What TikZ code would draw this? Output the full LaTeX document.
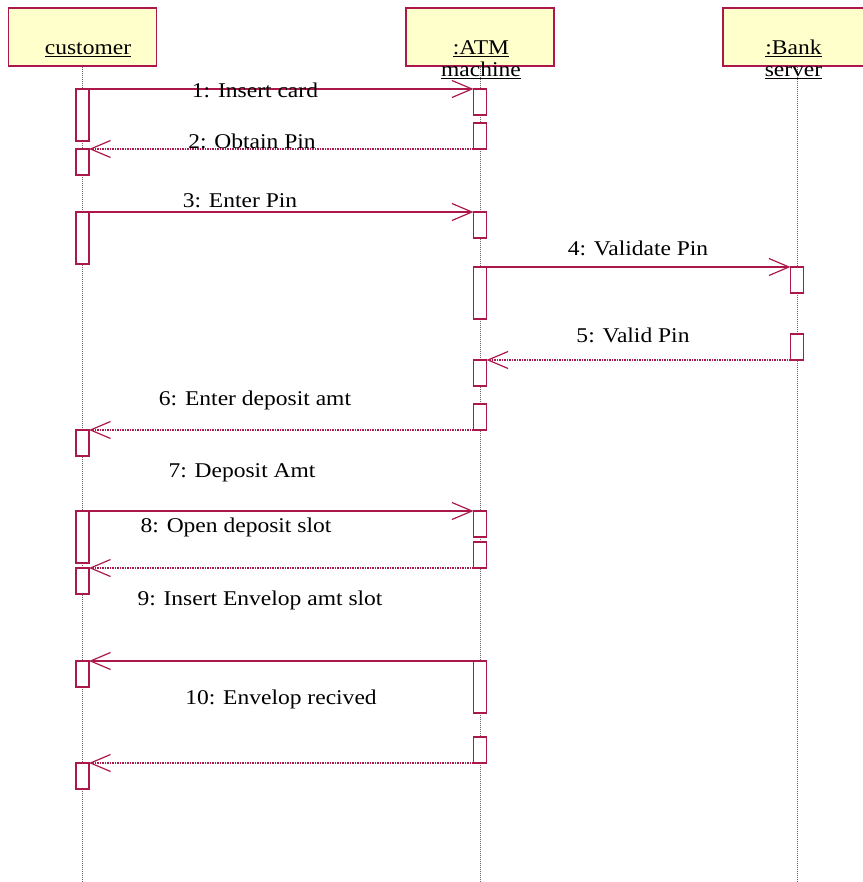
\documentclass[tikz,border=0pt]{standalone}
\usepackage{fontspec}
\usepackage{tikz}
\usetikzlibrary{positioning, arrows.meta, calc}
\newfontfamily\umlfont{Liberation Serif}[FakeStretch=1.12]
\definecolor{umlred}{RGB}{172,24,76}
\definecolor{umlfill}{RGB}{255,255,204}

\begin{document}
\begin{tikzpicture}[x=1pt, y=-1pt,
		head/.style={draw=umlred, fill=umlfill, line width=1.3pt, minimum width=148, minimum height=58, inner sep=0pt},
		lifeline/.style={draw=gray!80!black, line width=0.9pt, dash pattern=on 1pt off 1pt},
		act/.style={draw=umlred, fill=white, line width=1.2pt, minimum width=13, inner sep=0pt, outer sep=0pt},
		msg/.style={draw=umlred, line width=1.2pt, -{Straight Barb[length=20pt, width=17pt, line width=1.2pt]}},
		reply/.style={msg, dash pattern=on 1.5pt off 1pt},
		lbl/.style={font=\umlfont\fontsize{21}{25}\selectfont, inner sep=0pt, anchor=base}]
		\useasboundingbox (0,0) rectangle (862,882);
		\coordinate (bottom) at (0,882);
		\node[head] (cust) at (82.5,37){};
		\node[head] (atm) at (480,37){};
		\node[head] (bank) at (797,37){};
		\draw[lifeline] (cust.south) -- (cust.south |- bottom);
		\draw[lifeline] (atm.south) -- (atm.south |- bottom);
		\draw[lifeline] (bank.south) -- (bank.south |- bottom);
		\node[lbl] (custname) at (88,55){\underline{customer}};
		\node[lbl] (atmname) at (481,55){\underline{:ATM}};
		\node[lbl] (atmname2) at (481,77){\underline{machine}};
		\node[lbl] (bankname) at (793.5,55){\underline{:Bank}};
		\node[lbl] (bankname2) at (793.5,77){\underline{server}};
		\node[act, minimum height=52] (c1) at (82.5,115){};
		\node[act, minimum height=26] (c2) at (82.5,162){};
		\node[act, minimum height=52] (c3) at (82.5,238){};
		\node[act, minimum height=26] (c4) at (82.5,443){};
		\node[act, minimum height=52] (c5) at (82.5,537){};
		\node[act, minimum height=26] (c6) at (82.5,581){};
		\node[act, minimum height=26] (c7) at (82.5,674){};
		\node[act, minimum height=26] (c8) at (82.5,776){};
		\node[act, minimum height=26] (a1) at (480,102){};
		\node[act, minimum height=26] (a2) at (480,136){};
		\node[act, minimum height=26] (a3) at (480,225){};
		\node[act, minimum height=52] (a4) at (480,293){};
		\node[act, minimum height=26] (a5) at (480,373){};
		\node[act, minimum height=26] (a6) at (480,417){};
		\node[act, minimum height=26] (a7) at (480,524){};
		\node[act, minimum height=26] (a8) at (480,555){};
		\node[act, minimum height=52] (a9) at (480,687){};
		\node[act, minimum height=26] (a10) at (480,750){};
		\node[act, minimum height=26] (b1) at (797,280){};
		\node[act, minimum height=26] (b2) at (797,347){};
		\draw[msg] (c1.north east) -- (a1.north west);
		\draw[reply] (a2.south west) -- (c2.north east);
		\draw[msg] (c3.north east) -- (a3.north west);
		\draw[msg] (a4.north east) -- (b1.north west);
		\draw[reply] (b2.south west) -- (a5.north east);
		\draw[reply] (a6.south west) -- (c4.north east);
		\draw[msg] (c5.north east) -- (a7.north west);
		\draw[reply] (a8.south west) -- (c6.north east);
		\draw[msg] (a9.north west) -- (c7.north east);
		\draw[reply] (a10.south west) -- (c8.north east);
		\node[lbl] (m1) at (255,98){1: Insert card};
		\node[lbl] (m2) at (252,149){2: Obtain Pin};
		\node[lbl] (m3) at (240,208){3: Enter Pin};
		\node[lbl] (m4) at (638,256){4: Validate Pin};
		\node[lbl] (m5) at (633,342){5: Valid Pin};
		\node[lbl] (m6) at (255,405){6: Enter deposit amt};
		\node[lbl] (m7) at (242,477){7: Deposit Amt};
		\node[lbl] (m8) at (236,532){8: Open deposit slot};
		\node[lbl] (m9) at (260,605){9: Insert Envelop amt slot};
		\node[lbl] (m10) at (281,704){10: Envelop recived};
	\end{tikzpicture}
\end{document}
